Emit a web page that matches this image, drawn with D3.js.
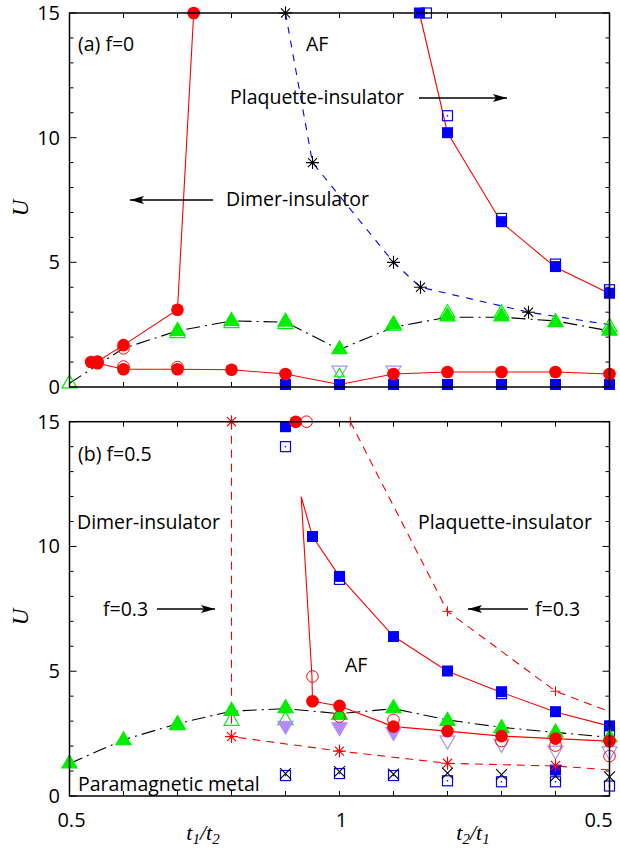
<!DOCTYPE html>
<html>
<head>
<meta charset="utf-8">
<script src="https://cdn.jsdelivr.net/npm/d3@7"></script>
<style>
    body { margin: 0; background: #fff; }
    text { font-family: "Open Sans", sans-serif; }
    .serif { font-family: "Liberation Serif", "DejaVu Serif", serif; font-style: italic; }
</style>
</head>
<body>
<svg id="chart" width="620" height="850"></svg>
<script>
// x runs 0.5 -> 1 as t1/t2 and then 1 -> 0.5 as t2/t1 (stored as 2 - t2/t1)
const xTicks = [0.5, 0.6, 0.7, 0.8, 0.9, 1.0, 1.1, 1.2, 1.3, 1.4, 1.5];
const xTickLabels = [[0.5, "0.5"], [1.0, "1"], [1.5, "0.5"]];
const yTicksMajor = [0, 5, 10, 15];

// ---- panel (a) f=0
const aRedUpper = [[0.54, 1.0], [0.552, 1.02], [0.6, 1.68], [0.7, 3.1], [0.73, 15]];
const aRedLower = [[0.54, 1.0], [0.552, 0.95], [0.6, 0.71], [0.7, 0.71], [0.8, 0.69], [0.9, 0.52],
    [1.0, 0.1], [1.1, 0.52], [1.2, 0.6], [1.3, 0.6], [1.4, 0.6], [1.5, 0.52]];
const aRedPlaq = [[1.148, 15], [1.2, 10.2], [1.3, 6.6], [1.4, 4.8], [1.5, 3.75]];
const aRedDots = [[0.54, 1.0], [0.552, 1.02], [0.6, 1.68], [0.7, 3.1], [0.73, 15],
    [0.552, 0.95], [0.6, 0.71], [0.7, 0.71], [0.8, 0.69], [0.9, 0.52],
    [1.1, 0.52], [1.2, 0.6], [1.3, 0.6], [1.4, 0.6], [1.5, 0.52]];
const aRedOpen = [[0.6, 1.55], [0.6, 0.82], [0.7, 0.8]];
const aBlueFilled = [[1.148, 15], [1.2, 10.2], [1.3, 6.63], [1.4, 4.83], [1.5, 3.76],
    [0.9, 0.1], [1.0, 0.1], [1.1, 0.1], [1.2, 0.1], [1.3, 0.1], [1.4, 0.1], [1.5, 0.1]];
const aBlueOpen = [[1.161, 15], [1.2, 10.88], [1.3, 6.76], [1.4, 4.93], [1.5, 3.9]];
const aStars = [[0.9, 15], [0.95, 9], [1.1, 5], [1.15, 4], [1.35, 3]];
const aBlueDash = [[0.9, 15], [0.95, 9], [1.1, 5], [1.15, 4], [1.35, 3], [1.5, 2.5]];
const aGreenFilled = [[0.7, 2.29], [0.8, 2.69], [0.9, 2.66], [1.0, 1.55], [1.1, 2.55],
    [1.2, 2.87], [1.3, 2.87], [1.4, 2.64], [1.5, 2.3]];
const aGreenOpen = [[0.5, 0.18], [0.7, 2.2], [0.8, 2.6], [0.9, 2.56], [1.1, 2.5],
    [1.2, 3.0], [1.3, 3.0], [1.5, 2.45]];
const aDashDot = [[0.5, 0.15], [0.6, 1.55], [0.7, 2.25], [0.8, 2.65], [0.9, 2.6], [1.0, 1.5],
    [1.1, 2.4], [1.2, 2.8], [1.3, 2.8], [1.4, 2.65], [1.5, 2.25]];
const aPurpleOpen = [[1.0, 0.62], [1.1, 0.62]];

// ---- panel (b) f=0.5
const bRedDashLeft = [[0.8, 15], [0.8, 2.38], [1.0, 1.8], [1.2, 1.31], [1.4, 1.2], [1.5, 1.05]];
const bRedStars = [[0.8, 15], [0.8, 2.38], [1.0, 1.8], [1.2, 1.31], [1.4, 1.22]];
const bRedDashRight = [[1.02, 15], [1.2, 7.4], [1.4, 4.2], [1.5, 3.38]];
const bRedPlus = [[1.02, 15], [1.2, 7.4], [1.4, 4.2]];
const bRedAF = [[0.95, 3.8], [0.949, 4.8], [0.929, 12], [0.95, 10.4], [1.0, 8.8], [1.1, 6.4],
    [1.2, 5.0], [1.3, 4.15], [1.4, 3.37], [1.5, 2.8]];
const bRedLow = [[0.95, 3.8], [1.0, 3.61], [1.1, 2.78], [1.2, 2.6], [1.3, 2.4], [1.4, 2.3], [1.5, 2.2]];
const bRedDots = [[0.919, 15], [0.95, 3.8], [1.0, 3.61], [1.1, 2.78], [1.2, 2.6], [1.3, 2.4], [1.4, 2.3], [1.5, 2.2]];
const bRedOpen = [[0.939, 15], [0.95, 4.79], [1.0, 3.18], [1.1, 3.05], [1.3, 2.2], [1.4, 2.02], [1.5, 1.6]];
const bBlueFilled = [[0.9, 14.8], [0.95, 10.4], [1.0, 8.8], [1.1, 6.39], [1.2, 5.01], [1.3, 4.18],
    [1.4, 3.38], [1.5, 2.81], [1.4, 1.04]];
const bBlueOpen = [[0.9, 14.0], [1.0, 8.68], [1.3, 4.1], [1.5, 2.58],
    [0.9, 0.82], [1.0, 0.9], [1.1, 0.82], [1.2, 0.61], [1.3, 0.57], [1.4, 0.57], [1.5, 0.4]];
const bCross = [[0.9, 0.9], [1.0, 0.98], [1.1, 0.88], [1.2, 0.92], [1.3, 0.86], [1.4, 0.8], [1.5, 0.77]];
const bGreenFilled = [[0.5, 1.34], [0.6, 2.27], [0.7, 2.92], [0.8, 3.45], [0.9, 3.56], [1.0, 3.3],
    [1.1, 3.56], [1.2, 3.05], [1.3, 2.76], [1.4, 2.58], [1.5, 2.38]];
const bGreenOpen = [[0.7, 2.88], [0.8, 3.05], [0.9, 3.08], [1.0, 3.3]];
const bPurpleFilled = [[0.9, 2.78], [1.0, 2.72], [1.1, 2.52]];
const bPurpleOpen = [[1.2, 2.18], [1.3, 2.05], [1.4, 1.78], [1.5, 1.75]];
const bDashDot = [[0.5, 1.3], [0.6, 2.25], [0.7, 2.9], [0.8, 3.4], [0.9, 3.5], [1.0, 3.3],
    [1.1, 3.5], [1.2, 3.05], [1.3, 2.75], [1.4, 2.55], [1.5, 2.35]];

const RED = "#ff0000", BLUE = "#0000ff", GREEN = "#00ee00", PURPLE = "#b28cff";

let svg = d3.select("#chart");

let x = d3.scaleLinear().domain([0.5, 1.5]).range([69.5, 609.5]);

function drawPanel(top, bottom, p) {
    let y = d3.scaleLinear().domain([0, 15]).range([bottom, top]);
    let g = svg.append("g");
    let line = d3.line().x(d => x(d[0])).y(d => y(d[1]));

    // ticks (inward, all four sides)
    let ticks = g.append("g").attr("stroke", "#000").attr("stroke-width", 1);
    xTicks.forEach(t => {
        ticks.append("line").attr("x1", x(t)).attr("x2", x(t)).attr("y1", bottom).attr("y2", bottom - 5);
        ticks.append("line").attr("x1", x(t)).attr("x2", x(t)).attr("y1", top).attr("y2", top + 5);
    });
    d3.range(0, 16).forEach(v => {
        let len = v % 5 == 0 ? 7 : 4;
        ticks.append("line").attr("x1", x(0.5)).attr("x2", x(0.5) + len).attr("y1", y(v)).attr("y2", y(v));
        ticks.append("line").attr("x1", x(1.5)).attr("x2", x(1.5) - len).attr("y1", y(v)).attr("y2", y(v));
    });

    g.selectAll(".ylab")
        .data(yTicksMajor)
        .enter()
        .append("text")
        .attr("x", 60)
        .attr("y", d => y(d) + 7)
        .attr("text-anchor", "end")
        .attr("font-size", 20)
        .text(d => d);

    // lines
    p.lines.forEach(l => {
        g.append("path")
            .attr("d", line(l.data))
            .attr("fill", "none")
            .attr("stroke", l.color)
            .attr("stroke-width", 1.1)
            .attr("stroke-dasharray", l.dash || null);
    });

    // markers
    p.marks.forEach(m => drawMarks(g, m.data, m.type, y));

    // frame
    g.append("rect")
        .attr("x", x(0.5)).attr("y", top)
        .attr("width", x(1.5) - x(0.5)).attr("height", bottom - top)
        .attr("fill", "none").attr("stroke", "#000").attr("stroke-width", 1.5);

    // U label
    g.append("text")
        .attr("class", "serif")
        .attr("transform", `translate(28, ${(top + bottom) / 2 + 8}) rotate(-90)`)
        .attr("text-anchor", "middle")
        .attr("font-size", 23)
        .text("U");

    p.labels.forEach(t => {
        g.append("text").attr("x", t[0]).attr("y", t[1]).attr("font-size", 19.5).text(t[2]);
    });
    p.arrows.forEach(a => {
        g.append("line").attr("x1", a[0]).attr("y1", a[1]).attr("x2", a[2]).attr("y2", a[1])
            .attr("stroke", "#000").attr("stroke-width", 1.3);
        let dir = a[2] > a[0] ? -1 : 1;
        g.append("path")
            .attr("d", `M${a[2]},${a[1]} L${a[2] + dir * 14},${a[1] - 4} L${a[2] + dir * 11},${a[1]} L${a[2] + dir * 14},${a[1] + 4} Z`)
            .attr("fill", "#000");
    });
}

function drawMarks(g, data, type, y) {
    let s = g.append("g");
    data.forEach(d => {
        let cx = x(d[0]), cy = y(d[1]);
        if (type == "redDot") {
            s.append("circle").attr("cx", cx).attr("cy", cy).attr("r", 6.3).attr("fill", RED);
        } else if (type == "redOpen") {
            s.append("circle").attr("cx", cx).attr("cy", cy).attr("r", 5.8).attr("fill", "none").attr("stroke", RED).attr("stroke-width", 1);
        } else if (type == "blueSq") {
            s.append("rect").attr("x", cx - 5.5).attr("y", cy - 5.5).attr("width", 11).attr("height", 11).attr("fill", BLUE);
        } else if (type == "blueOpen") {
            s.append("rect").attr("x", cx - 5).attr("y", cy - 5).attr("width", 10).attr("height", 10)
                .attr("fill", "none").attr("stroke", BLUE).attr("stroke-width", 1.2);
            s.append("rect").attr("x", cx - 0.7).attr("y", cy - 0.7).attr("width", 1.4).attr("height", 1.4).attr("fill", BLUE);
        } else if (type == "greenTri" || type == "greenOpen" || type == "greenSmall") {
            let r = type == "greenSmall" ? 5 : 7.5;
            s.append("path")
                .attr("d", `M${cx},${cy - r} L${cx + r},${cy + r * 0.72} L${cx - r},${cy + r * 0.72} Z`)
                .attr("fill", type == "greenTri" ? GREEN : "none")
                .attr("stroke", GREEN).attr("stroke-width", 1.2);
        } else if (type == "purpleTri" || type == "purpleOpen") {
            let r = 7.5;
            s.append("path")
                .attr("d", `M${cx},${cy + r} L${cx + r},${cy - r * 0.72} L${cx - r},${cy - r * 0.72} Z`)
                .attr("fill", type == "purpleTri" ? PURPLE : "none")
                .attr("stroke", PURPLE).attr("stroke-width", 1.2);
        } else if (type == "star" || type == "redStar") {
            let r = 6.5, c = type == "star" ? "#000" : RED;
            let p = `M${cx - r},${cy} L${cx + r},${cy} M${cx},${cy - r} L${cx},${cy + r}` +
                `M${cx - r * 0.7},${cy - r * 0.7} L${cx + r * 0.7},${cy + r * 0.7} M${cx - r * 0.7},${cy + r * 0.7} L${cx + r * 0.7},${cy - r * 0.7}`;
            s.append("path").attr("d", p).attr("stroke", c).attr("stroke-width", 1.1);
        } else if (type == "redPlus") {
            let r = 5;
            s.append("path").attr("d", `M${cx - r},${cy} L${cx + r},${cy} M${cx},${cy - r} L${cx},${cy + r}`)
                .attr("stroke", RED).attr("stroke-width", 1);
        } else if (type == "cross") {
            let r = 5.5;
            s.append("path").attr("d", `M${cx - r},${cy - r} L${cx + r},${cy + r} M${cx - r},${cy + r} L${cx + r},${cy - r}`)
                .attr("stroke", "#000").attr("stroke-width", 1.1);
        }
    });
}

const DASHDOT = "14,5,2,5";

drawPanel(13, 387, {
    lines: [
        { data: aDashDot, color: "#000", dash: DASHDOT },
        { data: aBlueDash, color: BLUE, dash: "7,7" },
        { data: aRedUpper, color: RED },
        { data: aRedLower, color: RED },
        { data: aRedPlaq, color: RED }
    ],
    marks: [
        { data: aBlueOpen, type: "blueOpen" },
        { data: aBlueFilled, type: "blueSq" },
        { data: aGreenOpen, type: "greenOpen" },
        { data: aGreenFilled, type: "greenTri" },
        { data: aPurpleOpen, type: "purpleOpen" },
        { data: [[1.0, 0.55]], type: "greenSmall" },
        { data: aRedOpen, type: "redOpen" },
        { data: aRedDots, type: "redDot" },
        { data: aStars, type: "star" }
    ],
    labels: [[78, 51, "(a) f=0"], [306, 51, "AF"], [230, 104, "Plaquette-insulator"], [226, 206, "Dimer-insulator"]],
    arrows: [[419, 98, 507], [213, 200, 130]]
});

drawPanel(421.7, 796, {
    lines: [
        { data: bDashDot, color: "#000", dash: DASHDOT },
        { data: bRedDashLeft, color: RED, dash: "8,6" },
        { data: bRedDashRight, color: RED, dash: "8,6" },
        { data: bRedAF, color: RED },
        { data: bRedLow, color: RED }
    ],
    marks: [
        { data: bBlueOpen, type: "blueOpen" },
        { data: bCross, type: "cross" },
        { data: bBlueFilled, type: "blueSq" },
        { data: bGreenOpen, type: "greenOpen" },
        { data: bGreenFilled, type: "greenTri" },
        { data: bPurpleOpen, type: "purpleOpen" },
        { data: bPurpleFilled, type: "purpleTri" },
        { data: bRedOpen, type: "redOpen" },
        { data: bRedDots, type: "redDot" },
        { data: bRedStars, type: "redStar" },
        { data: bRedPlus, type: "redPlus" }
    ],
    labels: [[78, 461, "(b) f=0.5"], [77, 529, "Dimer-insulator"], [103, 616, "f=0.3"],
        [78, 791, "Paramagnetic metal"], [418, 529, "Plaquette-insulator"], [535, 616, "f=0.3"], [345, 672, "AF"]],
    arrows: [[157, 609, 215], [528, 609, 468]]
});

// x tick labels and titles
svg.selectAll(".xlab")
    .data(xTickLabels)
    .enter()
    .append("text")
    .attr("x", (d, i) => i == 2 ? x(d[0]) - 11 : x(d[0]) + 2)
    .attr("y", 827)
    .attr("text-anchor", "middle")
    .attr("font-size", 20)
    .text(d => d[1]);

function ratioTitle(cx, a, b) {
    let t = svg.append("text").attr("class", "serif").attr("x", cx).attr("y", 840)
        .attr("text-anchor", "middle").attr("font-size", 22);
    t.append("tspan").text("t");
    t.append("tspan").attr("dy", 4).attr("font-size", 15).text(a);
    t.append("tspan").attr("dy", -4).text("/t");
    t.append("tspan").attr("dy", 4).attr("font-size", 15).text(b);
}
ratioTitle(203, "1", "2");
ratioTitle(473, "2", "1");
</script>
</body>
</html>
